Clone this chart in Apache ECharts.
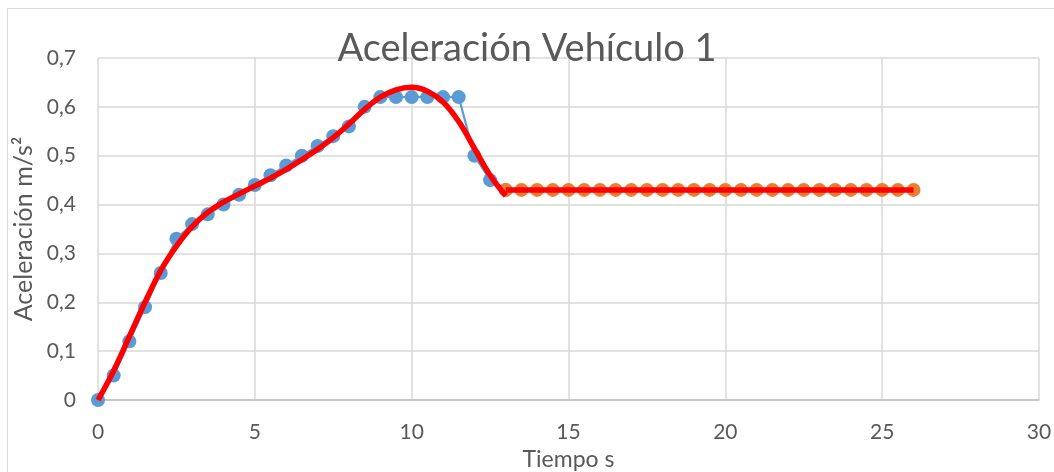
<!DOCTYPE html>
<html>
<head>
<meta charset="utf-8">
<script src="https://cdn.jsdelivr.net/npm/echarts@6/dist/echarts.min.js"></script>
<style>
html, body { margin: 0; padding: 0; background: #fff; }
#main { width: 1054px; height: 472px; }
</style>
</head>
<body>
<div id="main"></div>
<script>
// medidas (blue), tramo constante (orange), tendencia polinómica (red)
var tiempoMedido = [0, 0.5, 1, 1.5, 2, 2.5, 3, 3.5, 4, 4.5, 5, 5.5, 6, 6.5, 7, 7.5, 8, 8.5, 9, 9.5, 10, 10.5, 11, 11.5, 12, 12.5, 13];
var acelMedida = [0, 0.05, 0.12, 0.19, 0.26, 0.33, 0.36, 0.38, 0.40, 0.42, 0.44, 0.46, 0.48, 0.50, 0.52, 0.54, 0.56, 0.60, 0.62, 0.62, 0.62, 0.62, 0.62, 0.62, 0.50, 0.45, 0.43];

var tiempoConst = [13, 13.5, 14, 14.5, 15, 15.5, 16, 16.5, 17, 17.5, 18, 18.5, 19, 19.5, 20, 20.5, 21, 21.5, 22, 22.5, 23, 23.5, 24, 24.5, 25, 25.5, 26];
var acelConst = [0.43, 0.43, 0.43, 0.43, 0.43, 0.43, 0.43, 0.43, 0.43, 0.43, 0.43, 0.43, 0.43, 0.43, 0.43, 0.43, 0.43, 0.43, 0.43, 0.43, 0.43, 0.43, 0.43, 0.43, 0.43, 0.43, 0.43];

var tiempoTend = [0, 0.5, 1, 1.5, 2, 2.5, 3, 3.5, 4, 4.5, 5, 5.5, 6, 6.5, 7, 7.5, 8, 8.5, 9, 9.5, 10, 10.5, 11, 11.5, 12, 12.5, 13];
var acelTend = [0, 0.06, 0.13, 0.20, 0.265, 0.315, 0.355, 0.384, 0.405, 0.422, 0.438, 0.454, 0.472, 0.492, 0.513, 0.537, 0.565, 0.595, 0.62, 0.635, 0.64, 0.632, 0.61, 0.57, 0.515, 0.46, 0.418];

var tiempoTendConst = [13, 26];
var acelTendConst = [0.43, 0.43];

function pares(xs, ys) {
	return xs.map(function (x, i) { return [x, ys[i]]; });
}

var chart = echarts.init(document.getElementById('main'));
var fuente = 'Lato, "Liberation Sans", sans-serif';

chart.setOption({
	animation: false,
	backgroundColor: '#fff',
	title: {
		text: 'Aceleración Vehículo 1',
		left: 'center',
		top: 25,
		textStyle: {
			fontFamily: fuente,
			fontSize: 38,
			fontWeight: 'normal',
			color: '#595959'
		}
	},
	graphic: [{
		type: 'rect',
		shape: { x: 7.5, y: 8.5, width: 1100, height: 500 },
		style: { fill: 'none', stroke: '#d9d9d9', lineWidth: 1 },
		z: -1
	}],
	grid: {
		left: 98,
		right: 15,
		top: 58,
		bottom: 72,
		outerBoundsMode: 'none'
	},
	xAxis: {
		type: 'value',
		min: 0,
		max: 30,
		interval: 5,
		name: 'Tiempo s',
		nameLocation: 'middle',
		nameGap: 46,
		nameTextStyle: { fontFamily: fuente, fontSize: 23, color: '#595959' },
		axisLine: { show: true, lineStyle: { color: '#bfbfbf', width: 1.5 } },
		axisTick: { show: false },
		axisLabel: { fontFamily: fuente, fontSize: 21, color: '#595959', margin: 22 },
		splitLine: { show: true, lineStyle: { color: '#d9d9d9', width: 1.5 } }
	},
	yAxis: {
		type: 'value',
		min: 0,
		max: 0.7,
		interval: 0.1,
		name: 'Aceleración m/s²',
		nameLocation: 'middle',
		nameGap: 50,
		nameTextStyle: { fontFamily: fuente, fontSize: 25, color: '#595959' },
		axisLine: { show: false },
		axisTick: { show: false },
		axisLabel: {
			fontFamily: fuente,
			fontSize: 21,
			color: '#595959',
			margin: 22,
			formatter: function (v) { return String(+v.toFixed(1)).replace('.', ','); }
		},
		splitLine: { show: true, lineStyle: { color: '#d9d9d9', width: 1.5 } }
	},
	series: [
		{
			name: 'Medida',
			type: 'line',
			data: pares(tiempoMedido, acelMedida),
			symbol: 'circle',
			symbolSize: 14,
			lineStyle: { color: '#5b9bd5', width: 2.2 },
			itemStyle: { color: '#5b9bd5' },
			z: 2
		},
		{
			name: 'Constante',
			type: 'line',
			data: pares(tiempoConst, acelConst),
			symbol: 'circle',
			symbolSize: 14,
			lineStyle: { color: '#ed7d31', width: 2.2 },
			itemStyle: { color: '#ed7d31' },
			z: 3
		},
		{
			name: 'Tendencia',
			type: 'line',
			data: pares(tiempoTend, acelTend),
			smooth: 0.4,
			showSymbol: false,
			lineStyle: { color: '#ff0000', width: 5.5 },
			z: 4
		},
		{
			name: 'Tendencia constante',
			type: 'line',
			data: pares(tiempoTendConst, acelTendConst),
			showSymbol: false,
			lineStyle: { color: '#ff0000', width: 5.5 },
			z: 4
		}
	]
});
</script>
</body>
</html>
